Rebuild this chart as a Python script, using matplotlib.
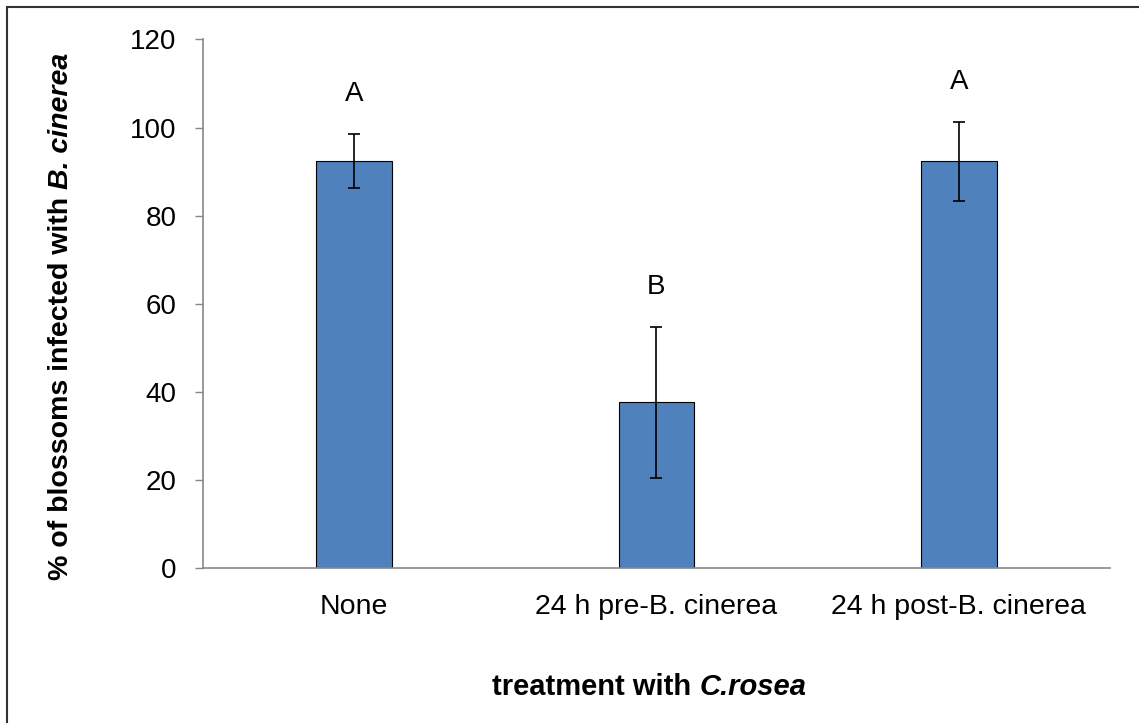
import matplotlib.pyplot as plt
from matplotlib.patches import Rectangle
from matplotlib.transforms import IdentityTransform

plt.rcParams['font.family'] = ['Liberation Sans', 'DejaVu Sans']

# treatments, mean infection and standard error
treatments = ["None", "24 h pre-B. cinerea", "24 h post-B. cinerea"]
infected = [92.4, 37.6, 92.3]
errors = [6.2, 17.1, 9.0]
letters = ["A", "B", "A"]

W, H = 1139, 723
fig = plt.figure(figsize=(W / 100, H / 100), dpi=100)
ax = fig.add_axes([0.1782, 0.2144, 0.7963, 0.7310])

x = range(len(treatments))
ax.bar(x, infected, width=0.25, color="#4F81BD", edgecolor="black", linewidth=0.8, zorder=2)
ax.errorbar(x, infected, yerr=errors, fmt="none", ecolor="black",
            elinewidth=1.2, capsize=4, capthick=1.2, zorder=3)

# significance letters above the error bars
for xi, v, e, l in zip(x, infected, errors, letters):
    ax.text(xi, v + e + 9, l, ha="center", va="center", fontsize=20)

ax.set_xlim(-0.5, 2.5)
ax.set_ylim(0, 120)
ax.set_yticks(range(0, 121, 20))
ax.set_xticks(list(x))
ax.set_xticklabels(treatments, fontsize=20.5)
ax.tick_params(axis="y", labelsize=20, length=6, width=1, color="#888888", pad=13)
ax.tick_params(axis="x", length=0, pad=19)

for s in ["top", "right"]:
    ax.spines[s].set_visible(False)
for s in ["left", "bottom"]:
    ax.spines[s].set_color("#888888")
    ax.spines[s].set_linewidth(1.2)


def mixed_label(parts, x0, y0, size, vertical=False):
    # bold text with italic species names, laid out piece by piece in pixels
    renderer = fig.canvas.get_renderer()
    pos = 0.0
    for txt, style in parts:
        if vertical:
            t = fig.text(x0, y0 + pos, txt, transform=IdentityTransform(), rotation=90,
                         rotation_mode="anchor", ha="left", va="baseline",
                         fontsize=size, fontweight="bold", fontstyle=style)
            pos += t.get_window_extent(renderer).height
        else:
            t = fig.text(x0 + pos, y0, txt, transform=IdentityTransform(),
                         ha="left", va="baseline",
                         fontsize=size, fontweight="bold", fontstyle=style)
            pos += t.get_window_extent(renderer).width


mixed_label([("% of blossoms infected with ", "normal"), ("B. cinerea", "italic")],
            68, H - 580, 20.5, vertical=True)
mixed_label([("treatment with ", "normal"), ("C.rosea", "italic")],
            492, H - 695, 21)

# outer frame line on the top and left
fig.patches.append(Rectangle((7 / W, -0.1), 1.2, 1 - 7 / H + 0.1, transform=fig.transFigure,
                             fill=False, edgecolor="#333333", linewidth=1.5))

fig.savefig("out.png", dpi=100)
